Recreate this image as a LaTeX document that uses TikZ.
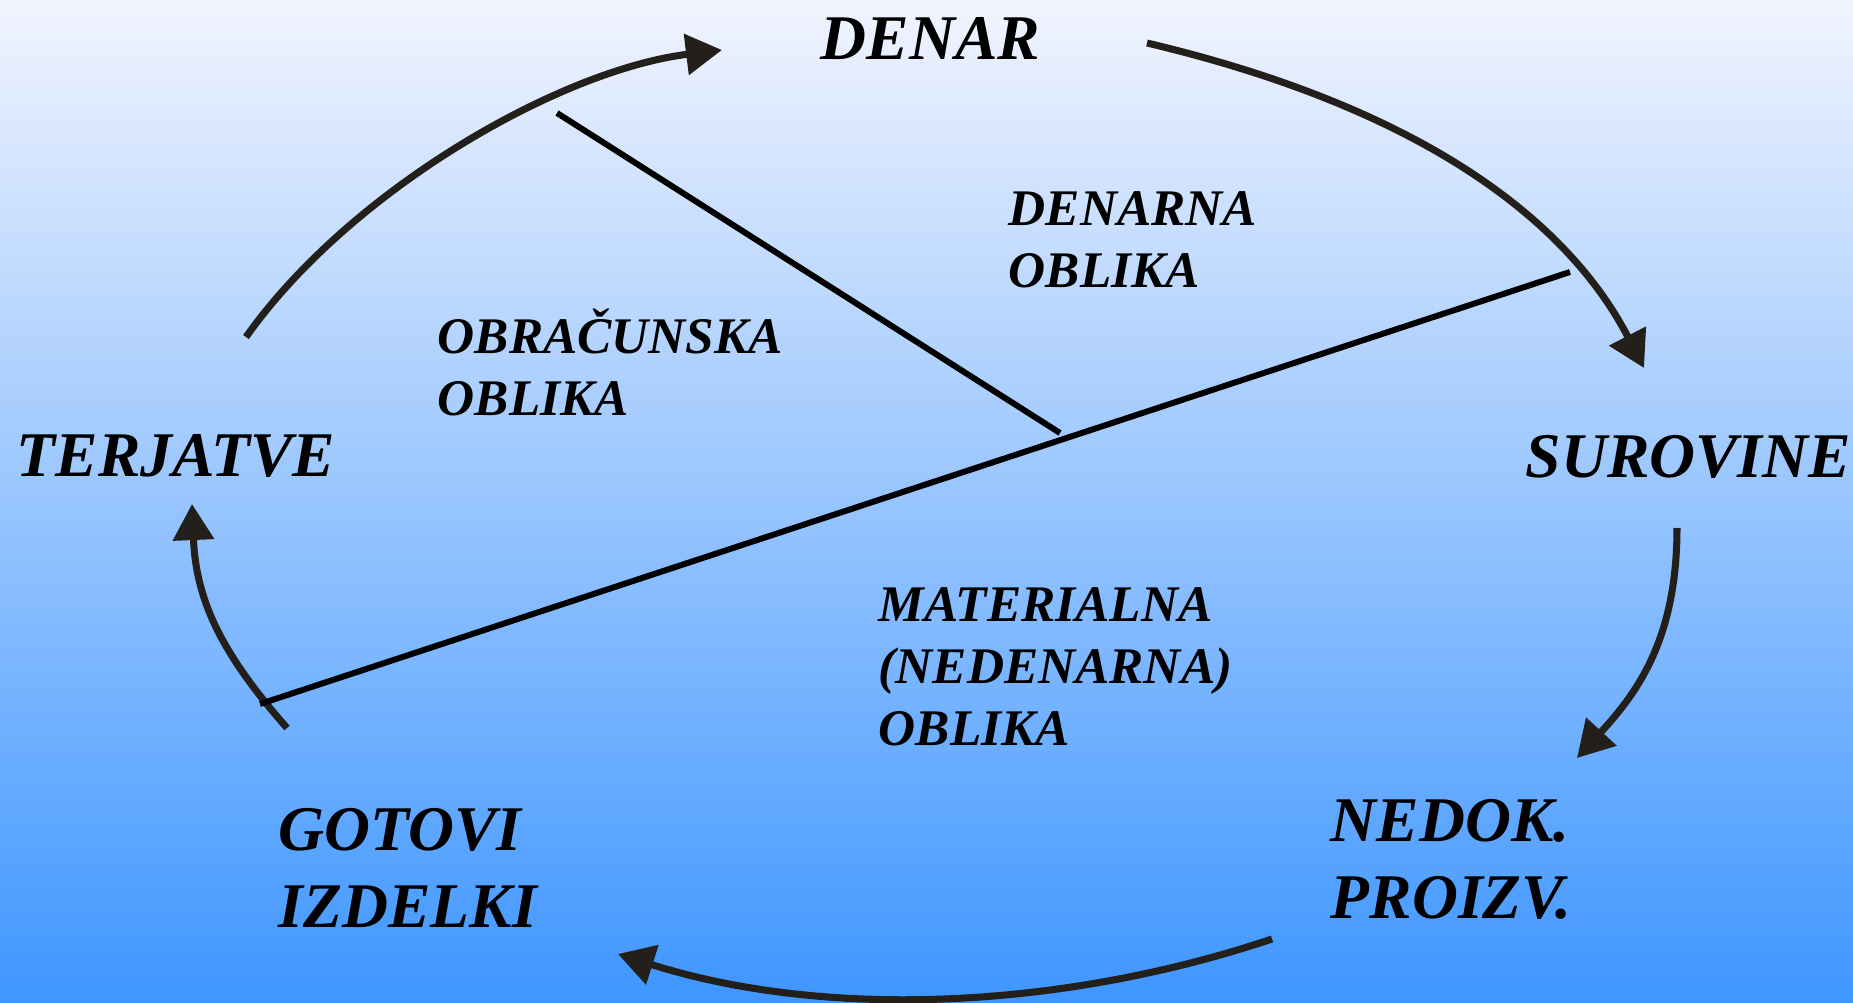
\documentclass[tikz,border=0pt]{standalone}
\usepackage{fontspec}
\setmainfont{Liberation Serif}
\usetikzlibrary{arrows.meta}
\definecolor{bgtop}{HTML}{F1F4FE}
\definecolor{bgmid}{HTML}{A6C5FE}
\definecolor{bgbot}{HTML}{3E96FF}
\definecolor{arrowc}{HTML}{231F1A}
\begin{document}
\begin{tikzpicture}[x=0.01cm,y=-0.01cm,
  big/.style={font=\fontsize{18.1pt}{21.8pt}\selectfont\bfseries\itshape, inner sep=0pt, anchor=base west, align=left},
  small/.style={font=\fontsize{14.6pt}{17.6pt}\selectfont\bfseries\itshape, inner sep=0pt, anchor=base west, align=left},
  flow/.style={draw=arrowc, line width=2pt, -{Triangle[length=0.36cm,width=0.40cm]}},
  divider/.style={draw=black, line width=1.7pt}]
\useasboundingbox (0,0) rectangle (1853,1003);
\shade[top color=bgtop, middle color=bgmid, bottom color=bgbot] (0,0) rectangle (1853,1003);

% labels (multi-line nodes are placed at the baseline of their last line)
\node[big] (denar) at (820,60) {DENAR};
\node[big] (surovine) at (1525,477) {SUROVINE};
\node[big] (terjatve) at (16,476) {TERJATVE};
\node[big] (nedok) at (1330,918) {NEDOK.\\PROIZV.};
\node[big] (gotovi) at (278,927) {GOTOVI\\IZDELKI};
\node[small] (obr) at (437,415) {OBRAČUNSKA\\OBLIKA};
\node[small] (den) at (1008,287) {DENARNA\\OBLIKA};
\node[small] (mat) at (878,745) {MATERIALNA\\(NEDENARNA)\\OBLIKA};

% arrow end points
\coordinate (a1s) at (246,337);  \coordinate (a1e) at (722,50);
\coordinate (a2s) at (1147,43);  \coordinate (a2e) at (1644,368);
\coordinate (a3s) at (1677,528); \coordinate (a3e) at (1577,758);
\coordinate (a4s) at (1272,939); \coordinate (a4e) at (618,954);
\coordinate (a5s) at (287,728);  \coordinate (a5e) at (192,504);

% cycle arrows
\draw[flow] (a1s) .. controls (350,190) and (560,70) .. (a1e);
\draw[flow] (a2s) .. controls (1430,110) and (1570,225) .. (a2e);
\draw[flow] (a3s) .. controls (1677,638) and (1638,692) .. (a3e);
\draw[flow] (a4s) .. controls (1063,1009) and (827,1020) .. (a4e);
\draw[flow] (a5s) .. controls (221,653) and (196,600) .. (a5e);

% dividing lines
\coordinate (l1a) at (557,113);  \coordinate (l1b) at (1060,433);
\coordinate (l2a) at (260,704);  \coordinate (l2b) at (1570,272);
\draw[divider] (l1a) -- (l1b);
\draw[divider] (l2a) -- (l2b);
\end{tikzpicture}
\end{document}
